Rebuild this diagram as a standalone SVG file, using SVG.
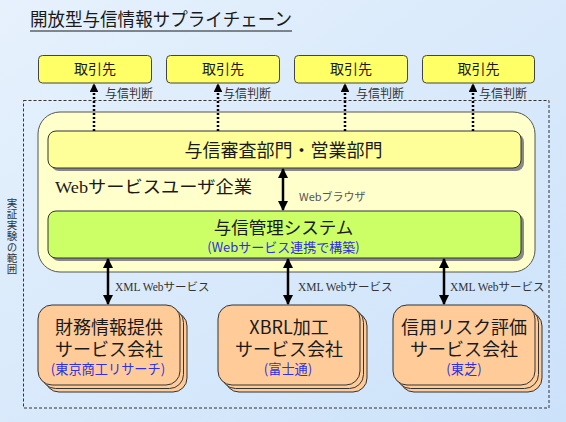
<svg xmlns="http://www.w3.org/2000/svg" width="566" height="422" viewBox="0 0 566 422">
<defs>
<linearGradient id="bg" x1="0" y1="0" x2="1" y2="1">
<stop offset="0" stop-color="#E6F1FC"/>
<stop offset="1" stop-color="#CCE2FA"/>
</linearGradient>
<marker id="ah" viewBox="0 0 10 10" refX="9" refY="5" markerWidth="4" markerHeight="4" orient="auto-start-reverse" markerUnits="strokeWidth">
<path d="M0,0 L10,5 L0,10 z" fill="#000"/>
</marker>
<marker id="ahd" viewBox="0 0 10 10" refX="9" refY="5" markerWidth="3.5" markerHeight="3.5" orient="auto" markerUnits="strokeWidth">
<path d="M0,0 L10,5 L0,10 z" fill="#000"/>
</marker>
</defs>
<style>
.jp{font-family:"Noto Sans CJK JP","Liberation Sans",sans-serif;fill:#1a1a1a}
.sf{font-family:"Liberation Serif","Noto Sans CJK JP",serif;fill:#1a1a1a}
.blue{fill:#3030E0}
.top{fill:#FFFF66;stroke:#444;stroke-width:1}
.org{fill:#FFCC99;stroke:#333;stroke-width:1}
.shadow{fill:#888}
.arrow{stroke:#000;stroke-width:2.5;fill:none}
.dot{stroke:#000;stroke-width:2.5;stroke-dasharray:2 2;fill:none}
.lbl{font-size:12px;fill:#333}
</style>
<rect width="566" height="422" fill="url(#bg)"/>

<g id="title">
<text class="jp" x="30" y="26" font-size="18.5" textLength="262" lengthAdjust="spacingAndGlyphs">開放型与信情報サプライチェーン</text>
<line x1="30" y1="31" x2="292" y2="31" stroke="#1a1a1a" stroke-width="1"/>
</g>

<g id="scope">
<rect x="23.5" y="100.5" width="525.5" height="307.5" fill="none" stroke="#333" stroke-width="1" stroke-dasharray="3 2"/>
<text class="jp" x="12" y="198" font-size="10.5" letter-spacing="0.5" style="writing-mode:vertical-rl;fill:#333">実証実験の範囲</text>
</g>

<g id="user-company">
<rect x="38" y="112" width="497" height="160" rx="22" fill="#FFFFCC" stroke="#555" stroke-width="1"/>
<text class="sf" x="55" y="193" font-size="17" textLength="197" lengthAdjust="spacingAndGlyphs">Webサービスユーザ企業</text>
</g>

<g id="dept">
<rect class="shadow" x="51" y="134" width="473" height="37" rx="8"/>
<rect x="48" y="131" width="473" height="37" rx="8" fill="#FFFF99" stroke="#333" stroke-width="1"/>
<text class="jp" x="283.5" y="156.5" font-size="18" text-anchor="middle">与信審査部門・営業部門</text>
</g>

<g id="system">
<rect class="shadow" x="51" y="214" width="473" height="47" rx="8"/>
<rect x="48" y="211" width="473" height="47" rx="8" fill="#CCFF66" stroke="#333" stroke-width="1"/>
<text class="jp" x="283.5" y="234" font-size="17.5" text-anchor="middle">与信管理システム</text>
<text class="jp blue" x="283.5" y="251.5" font-size="13" text-anchor="middle">(Webサービス連携で構築)</text>
</g>

<g id="client1"><rect class="top" x="38.5" y="55.5" width="113" height="27.5" rx="4"/><text class="jp" x="95" y="74" font-size="14" text-anchor="middle">取引先</text></g>
<g id="client2"><rect class="top" x="166.5" y="55.5" width="113" height="27.5" rx="4"/><text class="jp" x="223" y="74" font-size="14" text-anchor="middle">取引先</text></g>
<g id="client3"><rect class="top" x="294.5" y="55.5" width="113" height="27.5" rx="4"/><text class="jp" x="351" y="74" font-size="14" text-anchor="middle">取引先</text></g>
<g id="client4"><rect class="top" x="422.5" y="55.5" width="112" height="27.5" rx="4"/><text class="jp" x="478.5" y="74" font-size="14" text-anchor="middle">取引先</text></g>

<g id="provider1">
<rect class="org" x="45" y="312" width="142" height="80" rx="14"/>
<rect class="org" x="41.5" y="308.5" width="142" height="80" rx="14"/>
<rect class="org" x="38" y="305" width="142" height="80" rx="14"/>
<text class="jp" x="109" y="334" font-size="18" text-anchor="middle">財務情報提供</text>
<text class="jp" x="109" y="356" font-size="18" text-anchor="middle">サービス会社</text>
<text class="jp blue" x="108" y="374" font-size="13.2" text-anchor="middle">(東京商工リサーチ)</text>
</g>
<g id="provider2">
<rect class="org" x="225" y="312" width="142" height="80" rx="14"/>
<rect class="org" x="221.5" y="308.5" width="142" height="80" rx="14"/>
<rect class="org" x="218" y="305" width="142" height="80" rx="14"/>
<text class="jp" x="289" y="334" font-size="18" text-anchor="middle">XBRL加工</text>
<text class="jp" x="289" y="356" font-size="18" text-anchor="middle">サービス会社</text>
<text class="jp blue" x="288" y="374" font-size="13.2" text-anchor="middle">(富士通)</text>
</g>
<g id="provider3">
<rect class="org" x="400" y="312" width="142" height="80" rx="14"/>
<rect class="org" x="396.5" y="308.5" width="142" height="80" rx="14"/>
<rect class="org" x="393" y="305" width="142" height="80" rx="14"/>
<text class="jp" x="464" y="334" font-size="18" text-anchor="middle">信用リスク評価</text>
<text class="jp" x="464" y="356" font-size="18" text-anchor="middle">サービス会社</text>
<text class="jp blue" x="464" y="374" font-size="13.2" text-anchor="middle">(東芝)</text>
</g>

<g id="connectors">
<line class="dot" x1="94" y1="131" x2="94" y2="84" marker-end="url(#ahd)"/>
<line class="dot" x1="218" y1="131" x2="218" y2="84" marker-end="url(#ahd)"/>
<line class="dot" x1="345" y1="131" x2="345" y2="84" marker-end="url(#ahd)"/>
<line class="dot" x1="473" y1="131" x2="473" y2="84" marker-end="url(#ahd)"/>
<text class="jp lbl" x="105" y="98">与信判断</text>
<text class="jp lbl" x="223" y="98">与信判断</text>
<text class="jp lbl" x="356" y="98">与信判断</text>
<text class="jp lbl" x="479" y="98">与信判断</text>

<line class="arrow" x1="283" y1="169" x2="283" y2="210" marker-start="url(#ah)" marker-end="url(#ah)"/>
<text class="jp" x="299" y="201" font-size="11" style="fill:#555">Webブラウザ</text>

<line class="arrow" x1="108" y1="259" x2="108" y2="304" marker-start="url(#ah)" marker-end="url(#ah)"/>
<line class="arrow" x1="288" y1="259" x2="288" y2="304" marker-start="url(#ah)" marker-end="url(#ah)"/>
<line class="arrow" x1="444" y1="259" x2="444" y2="304" marker-start="url(#ah)" marker-end="url(#ah)"/>
<text class="sf" x="115" y="291" font-size="11.5" style="fill:#333">XML Webサービス</text>
<text class="sf" x="298" y="291" font-size="11.5" style="fill:#333">XML Webサービス</text>
<text class="sf" x="450" y="291" font-size="11.5" style="fill:#333">XML Webサービス</text>
</g>
</svg>
